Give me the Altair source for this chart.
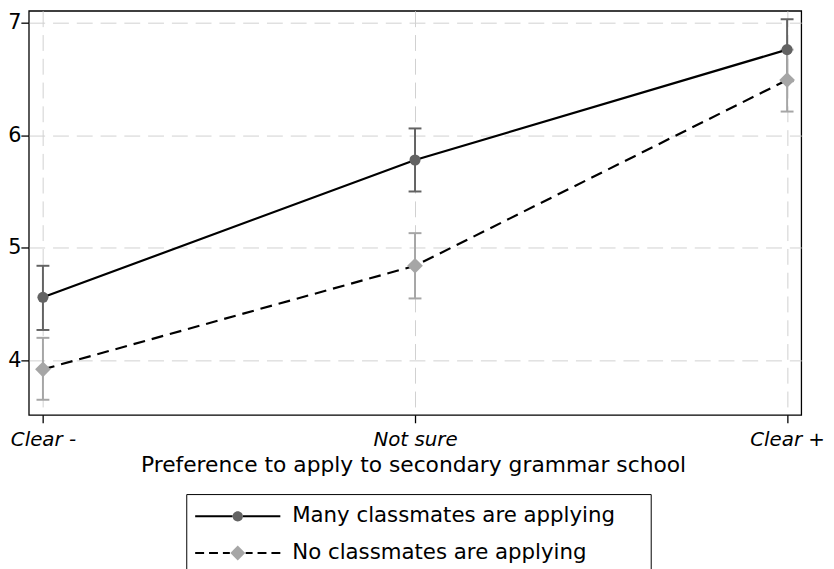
import altair as alt
import pandas as pd

# ---- data ----
categories = ["Clear -", "Not sure", "Clear +"]
series_names = ["Many classmates are applying", "No classmates are applying"]
many_mean = [4.56, 5.78, 6.76]
many_lo = [4.27, 5.50, 6.48]
many_hi = [4.84, 6.06, 7.03]
no_mean = [3.92, 4.84, 6.49]
no_lo = [3.65, 4.55, 6.21]
no_hi = [4.20, 5.13, 6.76]
y_ticks = [4, 5, 6, 7]

rows = []
for s, means, los, his in [
    (series_names[0], many_mean, many_lo, many_hi),
    (series_names[1], no_mean, no_lo, no_hi),
]:
    for i, c in enumerate(categories):
        rows.append({"pos": i, "cat": c, "series": s,
                     "mean": means[i], "lo": los[i], "hi": his[i]})
df = pd.DataFrame(rows)
legend_df = pd.DataFrame({"lk": series_names, "lk2": series_names})

FONT = "DejaVu Sans"
W, H = 780, 408
marker_color = {series_names[0]: "#636363", series_names[1]: "#a6a6a6"}
marker_shape = {series_names[0]: "circle", series_names[1]: "diamond"}
marker_size = {series_names[0]: 125, series_names[1]: 250}
line_dash = {series_names[0]: None, series_names[1]: [12, 7]}

xscale = alt.Scale(domain=[-0.038, 2.038], nice=False, zero=False)
yscale = alt.Scale(domain=[3.516, 7.105], nice=False, zero=False)

label_expr = "[" + ",".join("'" + c + "'" for c in categories) + "][datum.value]"

x_axis = alt.Axis(
    values=list(range(len(categories))), labelExpr=label_expr,
    title="Preference to apply to secondary grammar school",
    grid=True, gridDash=[16, 8], gridColor="#d0d0d0", gridWidth=1,
    domain=False, ticks=True, tickSize=8, tickColor="black", tickWidth=1.3,
    labelFont=FONT, labelFontSize=20, labelFontStyle="italic", labelColor="black",
    labelPadding=7, labelFlush=False, labelOverlap=False, labelBound=False,
    titleFont=FONT, titleFontSize=22, titleFontWeight="normal", titleColor="black",
    titleX=388, titleY=40, titleBaseline="top", titleAlign="center",
)
y_axis = alt.Axis(
    values=y_ticks, format="d", title=None,
    grid=True, gridDash=[16, 8], gridColor="#d0d0d0", gridWidth=1,
    domain=False, ticks=True, tickSize=8, tickColor="black", tickWidth=1.3,
    labelFont=FONT, labelFontSize=21, labelColor="black", labelPadding=0,
    labelFlush=False, labelOverlap=False, labelBound=False,
)

X = alt.X("pos:Q", scale=xscale, axis=x_axis)


def Y(field):
    return alt.Y(field, scale=yscale, axis=y_axis)


layers = []
# error bars
for s in series_names:
    b = alt.Chart(df).transform_filter(alt.datum.series == s)
    layers.append(b.mark_rule(color=marker_color[s], strokeWidth=2)
                  .encode(x=X, y=Y("lo:Q"), y2="hi:Q"))
    layers.append(b.mark_tick(color=marker_color[s], orient="horizontal",
                              size=13, thickness=2, opacity=1)
                  .encode(x=X, y=Y("lo:Q")))
    layers.append(b.mark_tick(color=marker_color[s], orient="horizontal",
                              size=13, thickness=2, opacity=1)
                  .encode(x=X, y=Y("hi:Q")))
# lines
for s in series_names:
    b = alt.Chart(df).transform_filter(alt.datum.series == s)
    kw = dict(color="black", strokeWidth=2.2)
    if line_dash[s]:
        kw["strokeDash"] = line_dash[s]
    layers.append(b.mark_line(**kw).encode(x=X, y=Y("mean:Q"), order="pos:Q"))
# markers
for s in series_names:
    b = alt.Chart(df).transform_filter(alt.datum.series == s)
    layers.append(b.mark_point(filled=True, shape=marker_shape[s],
                               size=marker_size[s], color=marker_color[s], opacity=1)
                  .encode(x=X, y=Y("mean:Q")))

# ---- legend (two overlaid legends: line symbols + marker symbols) ----
solid_path = "M-1,0L-0.12,0M0.12,0L1,0"
dashed_path = ("M-1,0L-0.79,0M-0.674,0L-0.465,0M-0.349,0L-0.186,0"
               "M0.186,0L0.349,0M0.465,0L0.674,0M0.791,0L1,0")
r = 0.122
circle_path = f"M{r},0A{r},{r},0,1,1,{-r},0A{r},{r},0,1,1,{r},0Z"
d = 0.175
diamond_path = f"M{-d},0L0,{-d}L{d},0L0,{d}Z"

# trailing non-breaking spaces (kept by a zero-width space) widen the legend box
pad_txt = "\u00a0" * 4 + "\u200b"
common = dict(orient="none", legendX=159, legendY=488, padding=8,
              symbolSize=7396, clipHeight=29, rowPadding=8, labelOffset=11,
              labelFont=FONT, labelFontSize=21.5, labelLimit=1000, title=None,
              symbolStrokeWidth=2, symbolOpacity=1,
              labelExpr="datum.label + '" + pad_txt + "'")

legA = alt.Legend(strokeColor="black", symbolStrokeColor="black",
                  symbolFillColor="transparent", labelColor="black", **common)
legB = alt.Legend(labelColor="transparent", symbolStrokeColor="transparent", **common)

carrierA = (alt.Chart(legend_df).transform_filter("false")
            .mark_point(filled=False, color="black", strokeWidth=2, opacity=1)
            .encode(shape=alt.Shape("lk:N", scale=alt.Scale(domain=series_names,
                                                           range=[solid_path, dashed_path]),
                                    legend=legA)))
carrierB = (alt.Chart(legend_df).transform_filter("false")
            .mark_point(filled=True, opacity=1)
            .encode(shape=alt.Shape("lk2:N", scale=alt.Scale(domain=series_names,
                                                            range=[circle_path, diamond_path]),
                                    legend=legB),
                    color=alt.Color("lk2:N", scale=alt.Scale(domain=series_names,
                                                            range=[marker_color[s] for s in series_names]),
                                    legend=legB)))
layers += [carrierA, carrierB]

chart = (alt.layer(*layers)
         .resolve_scale(shape="independent", color="independent")
         .resolve_legend(shape="independent", color="independent")
         .properties(width=W, height=H,
                     padding={"left": 21, "top": 0, "right": 25, "bottom": 170},
                     autosize=alt.AutoSizeParams(type="none"),
                     background="white")
         .configure_view(stroke="black", strokeWidth=1.3))

chart.save("out.html", embed_options={"renderer": "svg", "actions": False})
